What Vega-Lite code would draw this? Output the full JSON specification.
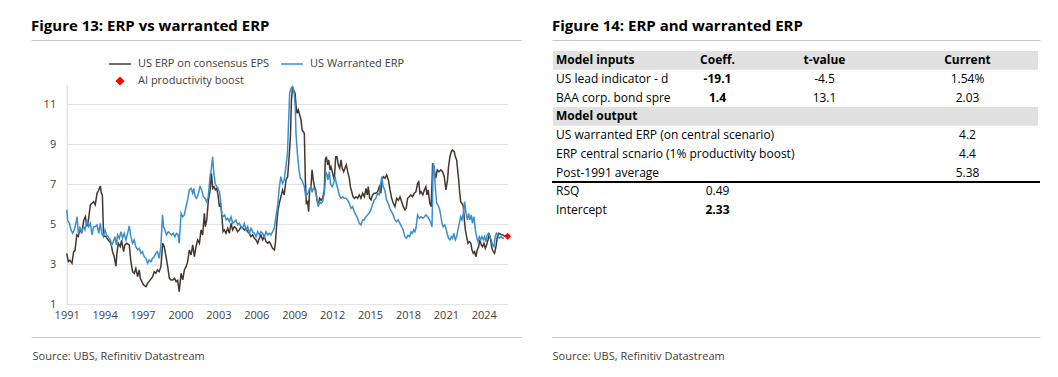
{
  "$schema": "https://vega.github.io/schema/vega-lite/v6.json",
  "background": "white",
  "padding": {"left": 30, "top": 18, "right": 18, "bottom": 10},
  "autosize": {"type": "pad"},
  "spacing": 28,
  "config": {"font": "Open Sans", "view": {"stroke": null}},
  "datasets": {
    "erp": [
      {"year":1991.00,"value":3.55},{"year":1991.13,"value":3.13},{"year":1991.26,"value":3.2},{"year":1991.42,"value":3.05},{"year":1991.55,"value":3.63},{"year":1991.66,"value":3.7},{"year":1991.80,"value":4.47},{"year":1991.92,"value":4.4},
      {"year":1992.05,"value":4.8},{"year":1992.18,"value":4.55},{"year":1992.35,"value":5.2},{"year":1992.48,"value":5.38},{"year":1992.60,"value":4.9},{"year":1992.72,"value":5.2},{"year":1992.87,"value":5.97},
      {"year":1993.00,"value":6.05},{"year":1993.13,"value":6.13},{"year":1993.26,"value":5.97},{"year":1993.40,"value":6.55},{"year":1993.53,"value":6.7},{"year":1993.66,"value":6.92},{"year":1993.74,"value":6.55},{"year":1993.82,"value":6.47},{"year":1993.92,"value":4.4},
      {"year":1994.08,"value":4.4},{"year":1994.24,"value":4.25},{"year":1994.37,"value":4.15},{"year":1994.50,"value":4.05},{"year":1994.63,"value":3.63},{"year":1994.76,"value":3.38},{"year":1994.90,"value":2.9},{"year":1994.97,"value":3.55},
      {"year":1995.08,"value":4.05},{"year":1995.24,"value":3.88},{"year":1995.34,"value":4.2},{"year":1995.50,"value":3.63},{"year":1995.60,"value":3.97},{"year":1995.76,"value":4.05},{"year":1995.95,"value":3.97},
      {"year":1996.08,"value":3.13},{"year":1996.21,"value":2.63},{"year":1996.34,"value":2.55},{"year":1996.47,"value":2.8},{"year":1996.61,"value":2.38},{"year":1996.74,"value":2.72},{"year":1996.82,"value":2.3},{"year":1996.95,"value":2.13},
      {"year":1997.08,"value":1.97},{"year":1997.27,"value":1.88},{"year":1997.40,"value":2.05},{"year":1997.61,"value":2.22},{"year":1997.80,"value":2.38},{"year":1997.92,"value":2.63},
      {"year":1998.05,"value":2.55},{"year":1998.18,"value":2.72},{"year":1998.32,"value":2.63},{"year":1998.45,"value":2.88},{"year":1998.60,"value":4.05},{"year":1998.72,"value":3.88},{"year":1998.86,"value":3.38},{"year":1998.99,"value":2.88},
      {"year":1999.12,"value":2.3},{"year":1999.26,"value":2.22},{"year":1999.40,"value":2.22},{"year":1999.53,"value":2.3},{"year":1999.66,"value":2.13},{"year":1999.78,"value":2.2},{"year":1999.90,"value":1.63},
      {"year":2000.05,"value":2.55},{"year":2000.18,"value":2.22},{"year":2000.31,"value":2.72},{"year":2000.44,"value":2.88},{"year":2000.57,"value":3.13},{"year":2000.70,"value":3.72},{"year":2000.84,"value":3.47},{"year":2000.97,"value":3.97},
      {"year":2001.10,"value":3.38},{"year":2001.23,"value":3.88},{"year":2001.36,"value":4.22},{"year":2001.50,"value":4.05},{"year":2001.63,"value":4.72},{"year":2001.76,"value":4.47},{"year":2001.89,"value":5.55},{"year":2001.97,"value":4.88},
      {"year":2002.08,"value":5.22},{"year":2002.21,"value":6.22},{"year":2002.34,"value":6.65},{"year":2002.45,"value":7.55},{"year":2002.55,"value":6.8},{"year":2002.66,"value":6.88},{"year":2002.76,"value":6.72},{"year":2002.87,"value":6.8},{"year":2002.97,"value":6.47},
      {"year":2003.08,"value":5.88},{"year":2003.18,"value":6.05},{"year":2003.26,"value":5.55},{"year":2003.37,"value":4.63},{"year":2003.47,"value":4.72},{"year":2003.60,"value":4.55},{"year":2003.74,"value":4.8},{"year":2003.87,"value":4.55},
      {"year":2004.00,"value":5.05},{"year":2004.13,"value":4.72},{"year":2004.27,"value":4.88},{"year":2004.40,"value":4.8},{"year":2004.53,"value":4.63},{"year":2004.66,"value":4.72},{"year":2004.79,"value":4.88},{"year":2004.92,"value":4.8},
      {"year":2005.06,"value":4.72},{"year":2005.19,"value":4.8},{"year":2005.32,"value":4.63},{"year":2005.45,"value":4.55},{"year":2005.58,"value":4.38},{"year":2005.71,"value":4.47},{"year":2005.85,"value":4.3},{"year":2005.98,"value":4.22},
      {"year":2006.11,"value":4.05},{"year":2006.24,"value":4.3},{"year":2006.37,"value":4.47},{"year":2006.50,"value":4.22},{"year":2006.64,"value":4.38},{"year":2006.77,"value":4.13},{"year":2006.90,"value":4.05},
      {"year":2007.03,"value":4.13},{"year":2007.16,"value":3.97},{"year":2007.29,"value":3.8},{"year":2007.43,"value":3.72},{"year":2007.51,"value":4.05},{"year":2007.62,"value":5.05},{"year":2007.72,"value":5.72},{"year":2007.82,"value":6.05},{"year":2007.95,"value":6.38},
      {"year":2008.08,"value":6.72},{"year":2008.21,"value":6.47},{"year":2008.35,"value":7.22},{"year":2008.48,"value":7.38},{"year":2008.60,"value":8.38},{"year":2008.70,"value":9.4},{"year":2008.78,"value":11.2},{"year":2008.87,"value":11.88},{"year":2008.95,"value":11.7},
      {"year":2009.07,"value":11.55},{"year":2009.15,"value":10.88},{"year":2009.22,"value":10.55},{"year":2009.32,"value":10.72},{"year":2009.42,"value":10.5},{"year":2009.54,"value":10.22},{"year":2009.62,"value":9.72},{"year":2009.72,"value":9.63},{"year":2009.80,"value":9.55},{"year":2009.88,"value":7.22},{"year":2009.96,"value":6.05},
      {"year":2010.06,"value":6.13},{"year":2010.14,"value":5.63},{"year":2010.22,"value":6.72},{"year":2010.33,"value":6.88},{"year":2010.41,"value":7.72},{"year":2010.51,"value":7.22},{"year":2010.60,"value":6.88},{"year":2010.70,"value":6.72},{"year":2010.80,"value":6.22},{"year":2010.91,"value":5.97},
      {"year":2011.01,"value":6.3},{"year":2011.12,"value":6.2},{"year":2011.25,"value":6.3},{"year":2011.38,"value":6.72},{"year":2011.46,"value":8.22},{"year":2011.54,"value":8.38},{"year":2011.65,"value":7.97},{"year":2011.73,"value":8.22},{"year":2011.83,"value":7.72},{"year":2011.91,"value":7.88},
      {"year":2012.04,"value":7.55},{"year":2012.17,"value":7.22},{"year":2012.28,"value":8.38},{"year":2012.38,"value":8.38},{"year":2012.49,"value":7.97},{"year":2012.60,"value":7.8},{"year":2012.70,"value":8.22},{"year":2012.80,"value":7.8},{"year":2012.91,"value":7.63},
      {"year":2013.01,"value":7.8},{"year":2013.12,"value":7.97},{"year":2013.23,"value":7.63},{"year":2013.36,"value":7.3},{"year":2013.44,"value":6.88},{"year":2013.55,"value":6.63},{"year":2013.65,"value":6.38},{"year":2013.76,"value":6.3},{"year":2013.89,"value":6.38},
      {"year":2014.02,"value":6.3},{"year":2014.15,"value":6.47},{"year":2014.28,"value":6.3},{"year":2014.41,"value":6.55},{"year":2014.55,"value":6.38},{"year":2014.68,"value":6.8},{"year":2014.78,"value":6.47},{"year":2014.86,"value":6.88},{"year":2014.97,"value":6.3},
      {"year":2015.07,"value":6.22},{"year":2015.20,"value":6.47},{"year":2015.33,"value":6.55},{"year":2015.46,"value":6.55},{"year":2015.60,"value":6.63},{"year":2015.73,"value":6.88},{"year":2015.86,"value":6.55},{"year":2015.94,"value":7.22},
      {"year":2016.05,"value":7.38},{"year":2016.18,"value":7.3},{"year":2016.31,"value":7.47},{"year":2016.45,"value":7.22},{"year":2016.58,"value":6.72},{"year":2016.71,"value":6.3},{"year":2016.84,"value":6.05},{"year":2016.97,"value":5.88},
      {"year":2017.10,"value":6.3},{"year":2017.24,"value":6.2},{"year":2017.37,"value":6.38},{"year":2017.50,"value":6.13},{"year":2017.63,"value":5.88},{"year":2017.76,"value":5.72},{"year":2017.86,"value":5.8},{"year":2017.97,"value":6.3},
      {"year":2018.10,"value":6.38},{"year":2018.23,"value":6.47},{"year":2018.36,"value":6.38},{"year":2018.50,"value":6.55},{"year":2018.63,"value":6.63},{"year":2018.76,"value":7.05},{"year":2018.85,"value":7.13},{"year":2018.95,"value":6.55},
      {"year":2019.03,"value":6.63},{"year":2019.17,"value":6.47},{"year":2019.30,"value":6.72},{"year":2019.42,"value":6.88},{"year":2019.50,"value":6.47},{"year":2019.60,"value":6.72},{"year":2019.73,"value":6.05},{"year":2019.84,"value":5.88},{"year":2019.95,"value":8.05},
      {"year":2020.06,"value":7.8},{"year":2020.19,"value":7.3},{"year":2020.32,"value":7.72},{"year":2020.45,"value":7.63},{"year":2020.60,"value":7.72},{"year":2020.74,"value":7.63},{"year":2020.87,"value":7.38},
      {"year":2021.00,"value":6.72},{"year":2021.13,"value":7.22},{"year":2021.21,"value":7.88},{"year":2021.32,"value":8.38},{"year":2021.43,"value":8.63},{"year":2021.53,"value":8.72},{"year":2021.66,"value":8.63},{"year":2021.74,"value":8.4},{"year":2021.85,"value":8.22},{"year":2021.93,"value":7.72},
      {"year":2022.01,"value":7.22},{"year":2022.09,"value":6.6},{"year":2022.17,"value":6.13},{"year":2022.27,"value":6.05},{"year":2022.38,"value":5.88},{"year":2022.46,"value":5.22},{"year":2022.54,"value":4.72},{"year":2022.64,"value":4.38},{"year":2022.75,"value":4.05},{"year":2022.85,"value":4.13},{"year":2022.98,"value":4.05},
      {"year":2023.06,"value":3.72},{"year":2023.17,"value":3.55},{"year":2023.27,"value":3.63},{"year":2023.38,"value":3.38},{"year":2023.48,"value":3.72},{"year":2023.59,"value":3.88},{"year":2023.69,"value":4.22},{"year":2023.80,"value":3.97},{"year":2023.90,"value":3.88},
      {"year":2024.01,"value":4.05},{"year":2024.12,"value":3.8},{"year":2024.22,"value":3.97},{"year":2024.33,"value":4.22},{"year":2024.43,"value":4.55},{"year":2024.54,"value":4.22},{"year":2024.64,"value":3.8},{"year":2024.75,"value":3.63},{"year":2024.85,"value":3.55},{"year":2024.96,"value":3.88},
      {"year":2025.07,"value":4.38},{"year":2025.17,"value":4.55},{"year":2025.28,"value":4.52},{"year":2025.38,"value":4.48},{"year":2025.50,"value":4.47},{"year":2025.62,"value":4.42},{"year":2025.72,"value":4.42}
    ],
    "warranted": [
      {"year":1991.00,"value":5.72},{"year":1991.08,"value":5.2},{"year":1991.21,"value":5.05},{"year":1991.34,"value":4.72},{"year":1991.47,"value":4.55},{"year":1991.60,"value":4.72},{"year":1991.73,"value":5.05},{"year":1991.82,"value":5.38},{"year":1991.92,"value":4.55},
      {"year":1992.05,"value":4.8},{"year":1992.18,"value":4.63},{"year":1992.34,"value":4.88},{"year":1992.45,"value":4.72},{"year":1992.60,"value":5.22},{"year":1992.74,"value":4.88},{"year":1992.87,"value":5.05},
      {"year":1993.00,"value":4.47},{"year":1993.13,"value":4.88},{"year":1993.26,"value":4.88},{"year":1993.40,"value":4.97},{"year":1993.53,"value":4.55},{"year":1993.66,"value":5.05},{"year":1993.77,"value":4.55},{"year":1993.90,"value":4.38},
      {"year":1994.03,"value":4.72},{"year":1994.16,"value":4.47},{"year":1994.29,"value":4.38},{"year":1994.45,"value":4.22},{"year":1994.56,"value":3.97},{"year":1994.69,"value":4.13},{"year":1994.82,"value":4.38},{"year":1994.93,"value":3.97},
      {"year":1995.03,"value":4.47},{"year":1995.16,"value":4.3},{"year":1995.29,"value":4.63},{"year":1995.42,"value":4.3},{"year":1995.55,"value":4.55},{"year":1995.69,"value":4.22},{"year":1995.82,"value":4.55},{"year":1995.95,"value":4.92},
      {"year":1996.08,"value":4.38},{"year":1996.21,"value":4.05},{"year":1996.34,"value":4.22},{"year":1996.47,"value":3.88},{"year":1996.61,"value":3.72},{"year":1996.74,"value":3.8},{"year":1996.87,"value":3.55},
      {"year":1997.00,"value":3.63},{"year":1997.13,"value":3.38},{"year":1997.27,"value":3.3},{"year":1997.40,"value":3.05},{"year":1997.53,"value":3.22},{"year":1997.66,"value":3.13},{"year":1997.79,"value":3.3},{"year":1997.92,"value":3.38},
      {"year":1998.05,"value":3.55},{"year":1998.18,"value":3.63},{"year":1998.32,"value":3.3},{"year":1998.45,"value":3.88},{"year":1998.58,"value":5.47},{"year":1998.66,"value":4.88},{"year":1998.77,"value":4.72},{"year":1998.90,"value":4.47},
      {"year":1999.03,"value":4.63},{"year":1999.16,"value":4.55},{"year":1999.30,"value":4.47},{"year":1999.43,"value":4.55},{"year":1999.56,"value":4.38},{"year":1999.69,"value":4.55},{"year":1999.80,"value":4.5},{"year":1999.90,"value":4.05},
      {"year":2000.05,"value":5.55},{"year":2000.18,"value":5.38},{"year":2000.31,"value":5.47},{"year":2000.44,"value":5.88},{"year":2000.57,"value":6.22},{"year":2000.70,"value":6.72},{"year":2000.84,"value":6.8},{"year":2000.97,"value":6.55},
      {"year":2001.05,"value":6.8},{"year":2001.16,"value":6.38},{"year":2001.28,"value":6.3},{"year":2001.42,"value":6.55},{"year":2001.55,"value":6.88},{"year":2001.68,"value":6.72},{"year":2001.81,"value":6.38},{"year":2001.94,"value":6.3},
      {"year":2002.07,"value":6.13},{"year":2002.20,"value":6.38},{"year":2002.34,"value":7.38},{"year":2002.45,"value":7.8},{"year":2002.55,"value":8.38},{"year":2002.63,"value":7.63},{"year":2002.74,"value":7.05},{"year":2002.87,"value":6.88},{"year":2002.97,"value":6.8},
      {"year":2003.08,"value":6.63},{"year":2003.16,"value":6.3},{"year":2003.26,"value":5.55},{"year":2003.37,"value":5.38},{"year":2003.50,"value":5.47},{"year":2003.61,"value":5.22},{"year":2003.74,"value":5.3},{"year":2003.87,"value":5.13},
      {"year":2004.00,"value":5.38},{"year":2004.13,"value":5.05},{"year":2004.26,"value":5.13},{"year":2004.39,"value":5.22},{"year":2004.53,"value":4.97},{"year":2004.66,"value":5.05},{"year":2004.79,"value":4.88},{"year":2004.92,"value":4.8},
      {"year":2005.05,"value":5.05},{"year":2005.19,"value":4.72},{"year":2005.32,"value":4.88},{"year":2005.45,"value":4.55},{"year":2005.58,"value":4.8},{"year":2005.71,"value":4.63},{"year":2005.85,"value":4.55},{"year":2005.98,"value":4.38},
      {"year":2006.11,"value":4.63},{"year":2006.24,"value":4.47},{"year":2006.37,"value":4.63},{"year":2006.50,"value":4.55},{"year":2006.64,"value":4.38},{"year":2006.77,"value":4.63},{"year":2006.90,"value":4.47},
      {"year":2007.03,"value":4.55},{"year":2007.16,"value":4.47},{"year":2007.29,"value":4.63},{"year":2007.42,"value":4.8},{"year":2007.55,"value":5.38},{"year":2007.68,"value":5.88},{"year":2007.80,"value":6.72},{"year":2007.94,"value":7.38},
      {"year":2008.08,"value":7.05},{"year":2008.21,"value":7.22},{"year":2008.34,"value":7.88},{"year":2008.47,"value":8.55},{"year":2008.55,"value":10.05},{"year":2008.64,"value":11.55},{"year":2008.74,"value":11.8},{"year":2008.87,"value":11.88},
      {"year":2009.00,"value":11.55},{"year":2009.08,"value":10.88},{"year":2009.14,"value":9.55},{"year":2009.25,"value":8.55},{"year":2009.38,"value":7.72},{"year":2009.49,"value":7.3},{"year":2009.60,"value":7.22},{"year":2009.70,"value":7.05},{"year":2009.80,"value":6.88},{"year":2009.91,"value":6.38},
      {"year":2010.01,"value":6.47},{"year":2010.12,"value":6.6},{"year":2010.22,"value":6.8},{"year":2010.33,"value":6.88},{"year":2010.41,"value":6.6},{"year":2010.51,"value":6.8},{"year":2010.64,"value":6.72},{"year":2010.77,"value":6.38},{"year":2010.90,"value":5.88},
      {"year":2011.01,"value":6.13},{"year":2011.12,"value":6.05},{"year":2011.25,"value":6.13},{"year":2011.38,"value":6.55},{"year":2011.51,"value":7.63},{"year":2011.59,"value":7.5},{"year":2011.67,"value":7.22},{"year":2011.78,"value":7.63},{"year":2011.88,"value":7.0},
      {"year":2012.01,"value":6.88},{"year":2012.12,"value":7.05},{"year":2012.23,"value":7.38},{"year":2012.33,"value":7.05},{"year":2012.44,"value":6.8},{"year":2012.57,"value":6.47},{"year":2012.70,"value":6.3},{"year":2012.83,"value":6.38},{"year":2012.96,"value":6.3},
      {"year":2013.09,"value":6.3},{"year":2013.22,"value":6.22},{"year":2013.36,"value":6.05},{"year":2013.49,"value":5.8},{"year":2013.62,"value":5.88},{"year":2013.75,"value":5.63},{"year":2013.88,"value":5.47},
      {"year":2014.01,"value":5.3},{"year":2014.15,"value":5.05},{"year":2014.28,"value":4.97},{"year":2014.41,"value":5.22},{"year":2014.54,"value":5.22},{"year":2014.67,"value":5.38},{"year":2014.80,"value":5.47},{"year":2014.93,"value":5.55},
      {"year":2015.06,"value":5.72},{"year":2015.19,"value":5.97},{"year":2015.33,"value":6.22},{"year":2015.46,"value":6.3},{"year":2015.59,"value":6.55},{"year":2015.72,"value":6.47},{"year":2015.85,"value":7.05},{"year":2015.93,"value":7.38},
      {"year":2016.04,"value":6.88},{"year":2016.17,"value":6.72},{"year":2016.30,"value":6.22},{"year":2016.43,"value":6.05},{"year":2016.56,"value":5.8},{"year":2016.70,"value":5.63},{"year":2016.83,"value":5.47},{"year":2016.96,"value":5.22},
      {"year":2017.10,"value":5.13},{"year":2017.23,"value":5.22},{"year":2017.36,"value":5.05},{"year":2017.49,"value":4.88},{"year":2017.62,"value":4.72},{"year":2017.75,"value":4.38},{"year":2017.88,"value":4.3},
      {"year":2018.00,"value":4.45},{"year":2018.13,"value":4.38},{"year":2018.24,"value":4.63},{"year":2018.35,"value":4.55},{"year":2018.45,"value":4.72},{"year":2018.55,"value":4.63},{"year":2018.63,"value":4.8},{"year":2018.76,"value":5.47},{"year":2018.90,"value":5.3},
      {"year":2019.03,"value":5.38},{"year":2019.16,"value":5.3},{"year":2019.30,"value":5.38},{"year":2019.42,"value":5.47},{"year":2019.56,"value":5.38},{"year":2019.70,"value":5.22},{"year":2019.82,"value":5.05},{"year":2019.90,"value":4.88},
      {"year":2020.00,"value":8.05},{"year":2020.08,"value":7.88},{"year":2020.16,"value":6.88},{"year":2020.27,"value":6.05},{"year":2020.37,"value":5.97},{"year":2020.48,"value":5.8},{"year":2020.58,"value":5.5},{"year":2020.69,"value":5.05},{"year":2020.79,"value":4.88},{"year":2020.90,"value":4.97},
      {"year":2021.00,"value":4.8},{"year":2021.10,"value":4.55},{"year":2021.21,"value":4.3},{"year":2021.32,"value":4.22},{"year":2021.43,"value":4.38},{"year":2021.53,"value":4.3},{"year":2021.64,"value":4.55},{"year":2021.74,"value":4.22},{"year":2021.85,"value":4.38},{"year":2021.95,"value":4.72},
      {"year":2022.06,"value":5.05},{"year":2022.17,"value":5.38},{"year":2022.27,"value":5.22},{"year":2022.38,"value":5.55},{"year":2022.48,"value":6.13},{"year":2022.59,"value":5.55},{"year":2022.70,"value":5.22},{"year":2022.80,"value":5.55},{"year":2022.90,"value":5.22},
      {"year":2023.01,"value":5.47},{"year":2023.10,"value":5.05},{"year":2023.22,"value":5.38},{"year":2023.33,"value":4.72},{"year":2023.43,"value":4.38},{"year":2023.54,"value":4.13},{"year":2023.64,"value":4.38},{"year":2023.75,"value":4.22},{"year":2023.85,"value":4.38},{"year":2023.96,"value":4.22},
      {"year":2024.06,"value":4.38},{"year":2024.17,"value":4.13},{"year":2024.27,"value":4.47},{"year":2024.38,"value":4.55},{"year":2024.48,"value":4.38},{"year":2024.59,"value":4.22},{"year":2024.69,"value":3.97},{"year":2024.80,"value":3.88},{"year":2024.90,"value":4.38},
      {"year":2025.00,"value":4.55},{"year":2025.11,"value":4.47},{"year":2025.22,"value":4.3},{"year":2025.35,"value":4.38},{"year":2025.50,"value":4.3},{"year":2025.60,"value":4.3}
    ],
    "ai": [{"year": 2025.88, "value": 4.4}],
    "table": [
      {"row": "Model inputs", "column": "label", "text": "Model inputs", "kind": "header"},
      {"row": "Model inputs", "column": "coeff", "text": "Coeff.", "kind": "header"},
      {"row": "Model inputs", "column": "tvalue", "text": "t-value", "kind": "header"},
      {"row": "Model inputs", "column": "current", "text": "Current", "kind": "header"},
      {"row": "US lead indicator - deviation", "column": "label", "text": "US lead indicator - deviation", "kind": "input"},
      {"row": "US lead indicator - deviation", "column": "coeff", "text": "-19.1", "kind": "coefficient"},
      {"row": "US lead indicator - deviation", "column": "tvalue", "text": "-4.5", "kind": "statistic"},
      {"row": "US lead indicator - deviation", "column": "current", "text": "1.54%", "kind": "value"},
      {"row": "BAA corp. bond spread", "column": "label", "text": "BAA corp. bond spread", "kind": "input"},
      {"row": "BAA corp. bond spread", "column": "coeff", "text": "1.4", "kind": "coefficient"},
      {"row": "BAA corp. bond spread", "column": "tvalue", "text": "13.1", "kind": "statistic"},
      {"row": "BAA corp. bond spread", "column": "current", "text": "2.03", "kind": "value"},
      {"row": "Model output", "column": "label", "text": "Model output", "kind": "header"},
      {"row": "US warranted ERP (on central scenario)", "column": "label", "text": "US warranted ERP (on central scenario)", "kind": "output"},
      {"row": "US warranted ERP (on central scenario)", "column": "current", "text": "4.2", "kind": "value"},
      {"row": "ERP central scnario (1% productivity boost)", "column": "label", "text": " ERP central  scnario (1% productivity boost)", "kind": "output"},
      {"row": "ERP central scnario (1% productivity boost)", "column": "current", "text": "4.4", "kind": "value"},
      {"row": "Post-1991 average", "column": "label", "text": "Post-1991 average", "kind": "output"},
      {"row": "Post-1991 average", "column": "current", "text": "5.38", "kind": "value"},
      {"row": "RSQ", "column": "label", "text": "RSQ", "kind": "fit"},
      {"row": "RSQ", "column": "coeff", "text": "0.49", "kind": "statistic"},
      {"row": "Intercept", "column": "label", "text": "Intercept", "kind": "fit"},
      {"row": "Intercept", "column": "coeff", "text": "2.33", "kind": "coefficient"}
    ]
  },
  "hconcat": [
    {
      "width": 490,
      "height": 297,
      "view": {"stroke": "#c8c8c8", "strokeWidth": 1, "strokeDash": [490, 297, 490, 297]},
      "title": {"text": "Figure 13: ERP vs warranted ERP", "anchor": "start", "frame": "group", "fontSize": 15, "fontWeight": "bold", "color": "#000000", "baseline": "alphabetic", "offset": -6},
      "encoding": {
        "x": {"field": "year", "type": "quantitative",
          "scale": {"domain": [1991, 2025.89], "range": [35.7, 476.7], "nice": false, "zero": false},
          "axis": {"values": [1991, 1994, 1997, 2000, 2003, 2006, 2009, 2012, 2015, 2018, 2021, 2024], "format": "d", "grid": false, "domain": false, "ticks": false, "labelPadding": 5, "labelFontSize": 11, "labelColor": "#404040", "labelFlush": false, "labelOverlap": false, "offset": -33,
            "title": "Source: UBS, Refinitiv Datastream", "titleFontSize": 11, "titleFontWeight": "normal", "titleColor": "#404040", "titleX": 1, "titleY": 55, "titleAlign": "left", "titleBaseline": "alphabetic"}},
        "y": {"field": "value", "type": "quantitative",
          "scale": {"domain": [1, 12], "range": [264.3, 44.3], "nice": false, "zero": false},
          "axis": {"values": [1, 3, 5, 7, 9, 11], "grid": true, "gridColor": "#e4e4e4", "domain": true, "domainColor": "#d4d4d4", "ticks": false, "labelPadding": 11, "labelFontSize": 11, "labelColor": "#404040", "offset": -35.7, "title": null}}
      },
      "layer": [
        {
          "data": {"name": "erp"},
          "mark": {"type": "line", "strokeWidth": 1.5},
          "encoding": {
            "color": {"datum": "US ERP on consensus EPS",
              "scale": {"domain": ["US ERP on consensus EPS", "US Warranted ERP", "AI productivity boost"], "range": ["#45372e", "#3a90cf", "#ff0000"]},
              "legend": {"title": null, "orient": "none", "legendX": 77, "legendY": 12, "direction": "horizontal", "columns": 2, "columnPadding": 8, "rowPadding": -6, "symbolSize": 484, "symbolStrokeWidth": 1.5, "symbolOpacity": 1, "labelFontSize": 11, "labelColor": "#404040", "labelOffset": 6,
                "encode": {"symbols": {"update": {"stroke": {"scale": "color", "field": "value"}, "fill": {"scale": "color", "field": "value"}}}}}}
          }
        },
        {
          "data": {"name": "warranted"},
          "mark": {"type": "line", "strokeWidth": 1.5},
          "encoding": {
            "color": {"datum": "US Warranted ERP"}
          }
        },
        {
          "data": {"name": "ai"},
          "mark": {"type": "point", "filled": true, "size": 484, "opacity": 1},
          "encoding": {
            "color": {"datum": "AI productivity boost"},
            "shape": {"datum": "AI productivity boost",
              "scale": {"domain": ["US ERP on consensus EPS", "US Warranted ERP", "AI productivity boost"], "range": ["M-1,0H1", "M-1,0H1", "M0,-0.32L0.32,0L0,0.32L-0.32,0Z"]},
              "legend": {"title": null, "orient": "none", "legendX": 77, "legendY": 12, "direction": "horizontal", "columns": 2, "columnPadding": 8, "rowPadding": -6, "symbolSize": 484, "symbolStrokeWidth": 1.5, "symbolOpacity": 1, "labelFontSize": 11, "labelColor": "#404040", "labelOffset": 6}}
          }
        }
      ]
    },
    {
      "width": 488,
      "height": 297,
      "view": {"stroke": "#c8c8c8", "strokeWidth": 1, "strokeDash": [488, 297, 488, 297]},
      "title": {"text": "Figure 14: ERP and warranted ERP", "anchor": "start", "frame": "group", "fontSize": 15, "fontWeight": "bold", "color": "#000000", "baseline": "alphabetic", "offset": -6},
      "data": {"name": "table"},
      "encoding": {
        "y": {"field": "row", "type": "nominal",
          "scale": {"type": "band", "domain": ["Model inputs", "US lead indicator - deviation", "BAA corp. bond spread", "Model output", "US warranted ERP (on central scenario)", "ERP central scnario (1% productivity boost)", "Post-1991 average", "RSQ", "Intercept"], "range": [11, 179.3], "paddingInner": 0, "paddingOuter": 0},
          "axis": null}
      },
      "resolve": {"scale": {"x": "independent"}},
      "layer": [
        {
          "transform": [{"filter": "datum.kind === 'header' && datum.column === 'label'"}],
          "mark": {"type": "rect", "fill": "#e1e1e1"},
          "encoding": {
            "x": {"field": "column", "type": "nominal", "scale": {"range": [1, 486], "paddingInner": 0, "paddingOuter": 0},
              "axis": {"orient": "bottom", "domain": false, "ticks": false, "labels": false, "grid": false,
                "title": "Source: UBS, Refinitiv Datastream", "titleFontSize": 11, "titleFontWeight": "normal", "titleColor": "#404040", "titleX": 0, "titleY": 22, "titleAlign": "left", "titleBaseline": "alphabetic"}}
          }
        },
        {
          "transform": [{"filter": "datum.row === 'RSQ' && datum.column === 'label'"}],
          "mark": {"type": "rule", "stroke": "#000000", "strokeWidth": 2},
          "encoding": {"y": {"field": "row", "type": "nominal", "bandPosition": 0}}
        },
        {
          "transform": [{"filter": "datum.column === 'label' && datum.kind === 'header'"}],
          "mark": {"type": "text", "align": "left", "baseline": "middle", "fontSize": 12, "fontWeight": "bold", "color": "#000000"},
          "encoding": {
            "x": {"field": "column", "type": "nominal", "scale": {"type": "point", "range": [4, 131], "padding": 0, "align": 0}, "axis": null},
            "text": {"field": "text"}
          }
        },
        {
          "transform": [{"filter": "datum.column === 'label' && datum.kind === 'input'"}],
          "mark": {"type": "text", "align": "left", "baseline": "middle", "fontSize": 12, "color": "#000000", "limit": 121, "ellipsis": " "},
          "encoding": {
            "x": {"field": "column", "type": "nominal", "scale": {"type": "point", "range": [4, 131], "padding": 0, "align": 0}, "axis": null},
            "text": {"field": "text"}
          }
        },
        {
          "transform": [{"filter": "datum.column === 'label' && (datum.kind === 'output' || datum.kind === 'fit')"}],
          "mark": {"type": "text", "align": "left", "baseline": "middle", "fontSize": 12, "color": "#000000"},
          "encoding": {
            "x": {"field": "column", "type": "nominal", "scale": {"type": "point", "range": [4, 131], "padding": 0, "align": 0}, "axis": null},
            "text": {"field": "text"}
          }
        },
        {
          "transform": [{"filter": "datum.column === 'coeff' && (datum.kind === 'header' || datum.kind === 'coefficient')"}],
          "mark": {"type": "text", "align": "center", "baseline": "middle", "fontSize": 12, "fontWeight": "bold", "color": "#000000"},
          "encoding": {
            "x": {"field": "column", "type": "nominal", "scale": {"range": [131, 200], "paddingInner": 0, "paddingOuter": 0}, "axis": null},
            "text": {"field": "text"}
          }
        },
        {
          "transform": [{"filter": "datum.column === 'coeff' && datum.kind === 'statistic'"}],
          "mark": {"type": "text", "align": "center", "baseline": "middle", "fontSize": 12, "color": "#000000"},
          "encoding": {
            "x": {"field": "column", "type": "nominal", "scale": {"range": [131, 200], "paddingInner": 0, "paddingOuter": 0}, "axis": null},
            "text": {"field": "text"}
          }
        },
        {
          "transform": [{"filter": "datum.column === 'tvalue' && datum.kind === 'header'"}],
          "mark": {"type": "text", "align": "center", "baseline": "middle", "fontSize": 12, "fontWeight": "bold", "color": "#000000"},
          "encoding": {
            "x": {"field": "column", "type": "nominal", "scale": {"range": [200, 345], "paddingInner": 0, "paddingOuter": 0}, "axis": null},
            "text": {"field": "text"}
          }
        },
        {
          "transform": [{"filter": "datum.column === 'tvalue' && datum.kind !== 'header'"}],
          "mark": {"type": "text", "align": "center", "baseline": "middle", "fontSize": 12, "color": "#000000"},
          "encoding": {
            "x": {"field": "column", "type": "nominal", "scale": {"range": [200, 345], "paddingInner": 0, "paddingOuter": 0}, "axis": null},
            "text": {"field": "text"}
          }
        },
        {
          "transform": [{"filter": "datum.column === 'current' && datum.kind === 'header'"}],
          "mark": {"type": "text", "align": "center", "baseline": "middle", "fontSize": 12, "fontWeight": "bold", "color": "#000000"},
          "encoding": {
            "x": {"field": "column", "type": "nominal", "scale": {"range": [345, 486], "paddingInner": 0, "paddingOuter": 0}, "axis": null},
            "text": {"field": "text"}
          }
        },
        {
          "transform": [{"filter": "datum.column === 'current' && datum.kind !== 'header'"}],
          "mark": {"type": "text", "align": "center", "baseline": "middle", "fontSize": 12, "color": "#000000"},
          "encoding": {
            "x": {"field": "column", "type": "nominal", "scale": {"range": [345, 486], "paddingInner": 0, "paddingOuter": 0}, "axis": null},
            "text": {"field": "text"}
          }
        }
      ]
    }
  ]
}
